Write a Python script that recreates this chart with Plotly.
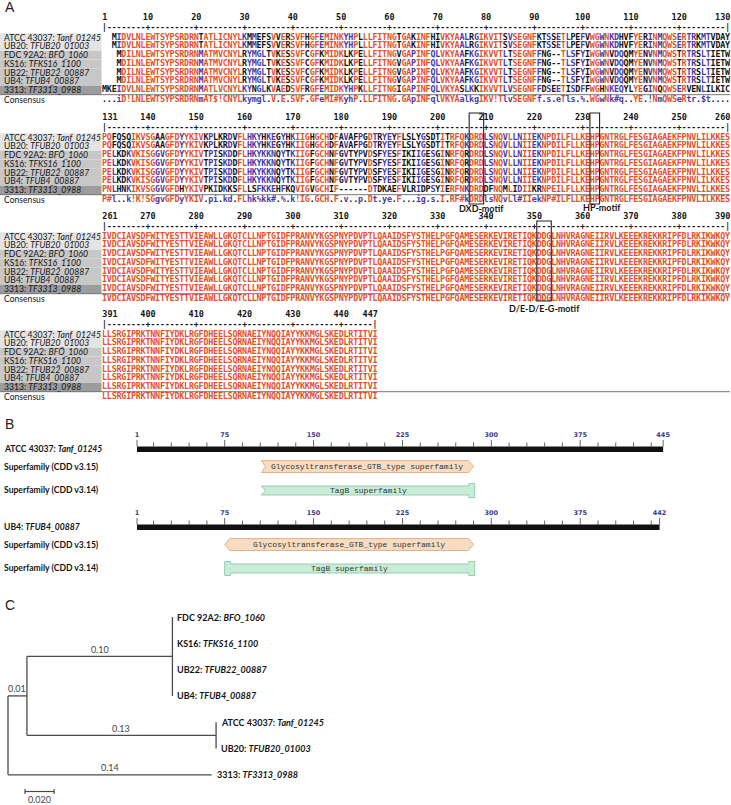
import plotly.graph_objects as go

W, H = 731, 805

# ======================= DATA =======================
# ---- Panel A: multiple alignment ----
ROW_STRAINS = ["ATCC 43037", "UB20", "FDC 92A2", "KS16", "UB22", "UB4", "3313"]
ROW_LOCI = ["Tanf_01245", "TFUB20_01003", "BFO_1060", "TFKS16_1100",
            "TFUB22_00887", "TFUB4_00887", "TF3313_0988"]

TANF_1_130 = ("--MIDVLNLE" "WTSYPSRDRN" "TATLICNYLK" "MMEFSVVERS" "VFHGFEMINK"
              "YHPLLLFITN" "GTGAKINFHI" "VKYAALRGIK" "VITSVSEGNF" "KTSSETLPEF"
              "VWGWNKDHVF" "YERINMQWSE" "RTRKMTVDAY")
TANF_131_260 = ("PQFQSQIKVS" "GAAGFDYYKI" "VKPLKRDVFL" "HKYHKEGYHK" "IIGHGCHDFA"
                "VAFPGDTRYE" "YFLSLYGSDT" "ITRFQKDRDL" "SNQVLLNIIE" "KNPDILFLLK"
                "EHPGNTRGLF" "ESGIAGAEKF" "PNVLILKKES")
TFUB20_1_130 = TANF_1_130
TFUB20_131_260 = TANF_131_260
BFO_1_130 = ("---MDILNLE" "WTSYPSRDRN" "MATMVCNYLR" "YMGLTVKESS" "VFCGFKMIDK"
             "LKPELLFITN" "GVGAPINFQL" "VKYAAFKGIK" "VVTLTSEGNF" "FNG--TLSFY"
             "IWGWNVDQQM" "YENVNMQWST" "RTRSLTIETW")
BFO_131_260 = ("PELKDKVKIS" "GGVGFDYYKI" "VTPISKDDFL" "HKYKKNQYTK" "IIGFGCHNFG"
               "VTYPVDSFYE" "SFIKIIGESG" "INRFQRDRDL" "SNQVLLNIIE" "KNPDILFLLK"
               "EHPGNTRGLF" "ESGIAGAEKF" "PNVLILKKES")
TF3313_1_130 = ("MKEIDVLNLE" "WTSYPSRDRN" "MATLVCNYLK" "YNGLKVAEDS" "VFRGFEMIDK"
                "YHPKLLFITN" "GIGAPINFQL" "VKYASLKKIK" "VVTLVSEGNF" "FDSEETISDF"
                "FWGHNKEQYL" "YEGINQQWSE" "RVENLILKIC")
TF3313_131_260 = ("PNLHNKIKVS" "GGVGFDHYKI" "VPKIDKKSFL" "LSFKKEHFKQ" "VIGVGCHIF-"
                  "-----DTDKA" "EFVLRIDPSY" "IERFNKDRDD" "FNQMLIDIIK" "RNPEILFLLK"
                  "EHPGNTRGLF" "ESGIAGAEKF" "PNVLILKKES")
SHARED_261_447 = ("IVDCIAVSDF" "WITYESTTVI" "EAWLLGKQTC" "LLNPTGIDFP" "RANVYKGSPN"
                  "YPDVPTLQAA" "IDSFYSTHEL" "PGFQAMESER" "KEVIRETIQK" "DDGLNHVRAG"
                  "NEIIRVLKEE" "EKREKKRIPF" "DLRKIKWKQY"
                  "LLSRGIPRKT" "NNFIYDKLRG" "FDHEELSQRN" "AEIYNQQIAY" "YKKMGLSKED"
                  "LRTITVI")
CONS_1_130 = ("...iD!LNLE" "WTSYPSRDRN" "mAT$!CNYLk" "ymgl.V.E.S" "VF.GFeMI#K"
              "yhP.LLFITN" "G.GApINFql" "VKYAalkgIK" "V!TlvSEGNF" "f.s.eTls.%"
              ".WGwNk#q.." "YE.!NmQWSe" "Rtr.$t....")
CONS_131_260 = ("P#l..k!K!S" "GgvGFDyYKI" "V.pi.kd.FL" "hk%kk#.%.k" "!IG.GCH.F."
                "v..p.Dt.ye" ".F...ig.s." "I.RF#kDRDl" "sNQvLl#IIe" "kNP#ILFLLK"
                "EHPGNTRGLF" "ESGIAGAEKF" "PNVLILKKES")
CONS_261_447 = SHARED_261_447
# consensus symbol columns (! $ % #) that are low-consensus (blue) in the picture
SYMBOL_LOW_POS = [100, 107, 114, 125, 163, 166, 168, 217]

BLOCK_STARTS = [1, 131, 261, 391]
MOTIF_NAMES = ["DXD-motif", "HP-motif", "D/E-D/E-G-motif"]
MOTIF_FROM = [207, 232, 351]
MOTIF_TO = [209, 233, 353]

# ---- Panel B: domain architecture ----
PROT_STRAINS = ["ATCC 43037", "UB4"]
PROT_LOCI = ["Tanf_01245", "TFUB4_00887"]
PROT_LEN = [445, 442]
GTB_FROM = [106, 75]
GTB_TO = [285, 285]
TAGB_FROM = [106, 75]
TAGB_TO = [286, 286]
GTB_NAME = "Glycosyltransferase_GTB_type superfamily"
TAGB_NAME = "TagB superfamily"
CDD_V315 = "Superfamily (CDD v3.15)"
CDD_V314 = "Superfamily (CDD v3.14)"
RULER_LABELS = [1, 75, 150, 225, 300, 375]

# ---- Panel C: tree ----
LEAF_STRAINS = ["FDC 92A2", "KS16", "UB22", "UB4", "ATCC 43037", "UB20", "3313"]
LEAF_LOCI = ["BFO_1060", "TFKS16_1100", "TFUB22_00887", "TFUB4_00887",
             "Tanf_01245", "TFUB20_01003", "TF3313_0988"]
BR_INNER = 0.013     # root -> inner node   (label 0.01)
BR_CLADE1 = 0.10     # inner -> FDC/KS16/UB22/UB4 clade
BR_CLADE2 = 0.13     # inner -> ATCC/UB20 clade
BR_3313 = 0.14       # root -> 3313
SCALE_BAR = 0.020

# ======================= STYLE / LAYOUT =======================
RED = "#e5512c"
BLUE = "#4a3aa8"
BLACK = "#141414"
MONO = "DejaVu Sans Mono"
SANS = "Lato"
GROUPS = {"!": "IV", "$": "LM", "%": "FY", "#": "NDQEBZ"}

SEQS = [TANF_1_130 + TANF_131_260 + SHARED_261_447,
        TFUB20_1_130 + TFUB20_131_260 + SHARED_261_447,
        BFO_1_130 + BFO_131_260 + SHARED_261_447,
        BFO_1_130 + BFO_131_260 + SHARED_261_447,
        BFO_1_130 + BFO_131_260 + SHARED_261_447,
        BFO_1_130 + BFO_131_260 + SHARED_261_447,
        TF3313_1_130 + TF3313_131_260 + SHARED_261_447]
CONS = CONS_1_130 + CONS_131_260 + CONS_261_447
NCOL = len(CONS)
for s in SEQS:
    assert len(s) == NCOL, len(s)

PXC = 4.83          # px per alignment column
COL1_PX = 104.5     # px of column 1 centre
BLOCK_TOP = [18, 118, 217, 315]
ROW_DY = 8.75
SEQ_DY0 = 19.5
LABEL_FS = 8.6

def row_y(b, i):
    return BLOCK_TOP[b] + SEQ_DY0 + i * ROW_DY + (0.8 if i == 7 else 0)

ROW_SHADE = ["#e4e4e4", "#e4e4e4", "#c7c7c7", "#c7c7c7", "#c7c7c7", "#c7c7c7", "#9c9c9c"]

fig = go.Figure()
shapes = []
annotations = []

def px2paper_x(px):
    return px / W

# ---------- Panel A ----------
def column_rule(j):
    c = CONS[j]
    if c == ".":
        return None, set()
    if c in GROUPS:
        return (BLUE if (j + 1) in SYMBOL_LOW_POS else RED), set(GROUPS[c])
    if c.isupper():
        return RED, {c}
    return BLUE, {c.upper()}

buckets = {RED: ([], [], []), BLUE: ([], [], []), BLACK: ([], [], [])}

def put(color, x, y, t):
    bx, by, bt = buckets[color]
    bx.append(x); by.append(y); bt.append(t)

num_x, num_y, num_t, num_pos = [], [], [], []
rul_x, rul_y, rul_t = [], [], []

for b, start in enumerate(BLOCK_STARTS):
    end = min(start + 129, NCOL)
    ncols = end - start + 1
    marks = [start] + [p for p in range(start, end + 1) if p % 10 == 0 and p != start]
    if end not in marks:
        marks.append(end)
    for p in marks:
        k = p - start + 1
        if p == start:
            num_x.append(k - 0.45); num_pos.append("middle right")
        elif p == end:
            num_x.append(k + 0.6); num_pos.append("middle left")
        else:
            num_x.append(k); num_pos.append("middle center")
        num_y.append(BLOCK_TOP[b]); num_t.append(str(p))
    for k in range(1, ncols + 1):
        p = start + k - 1
        ch = "|" if (k == 1 or p == end) else ("+" if p % 10 == 0 else "-")
        rul_x.append(k); rul_y.append(BLOCK_TOP[b] + 9.5); rul_t.append(ch)
    for i, seq in enumerate(SEQS):
        y = row_y(b, i)
        for k in range(1, ncols + 1):
            j = start + k - 2
            r = seq[j]
            if r == "-" and set(seq[:j + 1]) == {"-"}:
                continue
            col, match = column_rule(j)
            put(col if (col and r in match) else BLACK, k, y, r)
    yc = row_y(b, 7)
    for k in range(1, ncols + 1):
        j = start + k - 2
        col, _ = column_rule(j)
        put(col or BLACK, k, yc, CONS[j])
    for i in range(7):
        y = row_y(b, i)
        shapes.append(dict(type="rect", xref="paper", yref="y", x0=0, x1=px2paper_x(101.5),
                           y0=y - ROW_DY / 2, y1=y + ROW_DY / 2,
                           fillcolor=ROW_SHADE[i], line=dict(width=0), layer="below"))
        annotations.append(dict(xref="paper", yref="y", x=px2paper_x(2), y=y, xanchor="left",
                                yanchor="middle", showarrow=False,
                                text=f"{ROW_STRAINS[i]}: <i>{ROW_LOCI[i]}</i>",
                                font=dict(family=SANS, size=LABEL_FS, color=BLACK)))
    annotations.append(dict(xref="paper", yref="y", x=px2paper_x(2), y=yc, xanchor="left",
                            yanchor="middle", showarrow=False, text="Consensus",
                            font=dict(family=SANS, size=LABEL_FS, color=BLACK)))
    ysep = row_y(b, 6) + ROW_DY / 2 + 0.3
    shapes.append(dict(type="line", xref="paper", yref="y", x0=0, x1=px2paper_x(730),
                       y0=ysep, y1=ysep, line=dict(color="#555555", width=0.8)))

for col, (bx, by, bt) in buckets.items():
    fig.add_trace(go.Scatter(x=bx, y=by, text=bt, mode="text", xaxis="x", yaxis="y",
                             textposition="middle center", hoverinfo="skip", showlegend=False,
                             textfont=dict(family=MONO, size=8.4, color=col, weight="bold")))
fig.add_trace(go.Scatter(x=num_x, y=num_y, text=num_t, mode="text", xaxis="x", yaxis="y",
                         textposition=num_pos, hoverinfo="skip", showlegend=False,
                         textfont=dict(family=MONO, size=8.5, color=BLACK, weight="bold")))
fig.add_trace(go.Scatter(x=rul_x, y=rul_y, text=rul_t, mode="text", xaxis="x", yaxis="y",
                         textposition="middle center", hoverinfo="skip", showlegend=False,
                         textfont=dict(family=MONO, size=8, color=BLACK, weight="bold")))

MOTIF_Y = [(113, 204), (113, 204), (221, 301)]
MOTIF_LABEL_Y = [208, 207, 308]
MOTIF_LABEL_DX = [1.0, 1.6, 0.0]
for m, name in enumerate(MOTIF_NAMES):
    b = max(i for i, s in enumerate(BLOCK_STARTS) if s <= MOTIF_FROM[m])
    k0 = MOTIF_FROM[m] - BLOCK_STARTS[b] + 1
    k1 = MOTIF_TO[m] - BLOCK_STARTS[b] + 1
    y0, y1 = MOTIF_Y[m]
    shapes.append(dict(type="rect", xref="x", yref="y", x0=k0 - 0.5, x1=k1 + 0.5, y0=y0, y1=y1,
                       line=dict(color="#222222", width=1.1), fillcolor="rgba(0,0,0,0)"))
    annotations.append(dict(xref="x", yref="y", x=(k0 + k1) / 2 + MOTIF_LABEL_DX[m],
                            y=MOTIF_LABEL_Y[m], showarrow=False, xanchor="center",
                            yanchor="middle", text=f"<b>{name}</b>",
                            font=dict(family=SANS, size=9, color=BLACK)))

# ---------- Panel B ----------
PXA = 1.185
AA1_PX = 137
BASE_Y = [449, 527]
GTB_FILL, GTB_LINE = "#f8dcc2", "#e0b48e"
TAGB_FILL, TAGB_LINE = "#c9ecd9", "#92cfac"
TIP = 4.2
for p in range(2):
    base = BASE_Y[p]
    L = PROT_LEN[p]
    annotations.append(dict(xref="paper", yref="y", x=px2paper_x(2), y=base, xanchor="left",
                            yanchor="middle", showarrow=False,
                            text=f"<b>{PROT_STRAINS[p]}: <i>{PROT_LOCI[p]}</i></b>",
                            font=dict(family=SANS, size=LABEL_FS, color=BLACK)))
    for lab, dy in ((CDD_V315, 17.5), (CDD_V314, 40.5)):
        annotations.append(dict(xref="paper", yref="y", x=px2paper_x(2), y=base + dy,
                                xanchor="left", yanchor="middle", showarrow=False,
                                text=f"<b>{lab}</b>",
                                font=dict(family=SANS, size=LABEL_FS, color=BLACK)))
    shapes.append(dict(type="rect", xref="x2", yref="y", x0=1, x1=L, y0=base - 2.5, y1=base + 3,
                       fillcolor="#111111", line=dict(width=0)))
    tx, ty = [], []
    ticks = [1] + list(range(15, L, 15)) + [L]
    for t in ticks:
        major = (t in RULER_LABELS) or t == L
        tx += [t, t, None]
        ty += [base - (9 if major else 6.5), base - 2.5, None]
    fig.add_trace(go.Scatter(x=tx, y=ty, mode="lines", xaxis="x2", yaxis="y",
                             line=dict(color="#666666", width=1), hoverinfo="skip",
                             showlegend=False))
    labs = RULER_LABELS + [L]
    fig.add_trace(go.Scatter(x=labs, y=[base - 14] * len(labs), text=[str(v) for v in labs],
                             mode="text", xaxis="x2", yaxis="y", hoverinfo="skip",
                             showlegend=False, textposition="middle center",
                             textfont=dict(family="DejaVu Sans", size=6.5, color="#3b3b8c",
                                           weight="bold")))
    x0, x1 = GTB_FROM[p], GTB_TO[p]
    yt, yb, ym = base + 11.5, base + 23.5, base + 17.5
    if p == 0:
        path = (f"M {x0},{yt} L {x1 - TIP},{yt} L {x1},{ym} L {x1 - TIP},{yb} "
                f"L {x0},{yb} L {x0 + 3.4},{ym} Z")
    else:
        path = (f"M {x0 + TIP},{yt} L {x1 - TIP},{yt} L {x1},{ym} L {x1 - TIP},{yb} "
                f"L {x0 + TIP},{yb} L {x0},{ym} Z")
    shapes.append(dict(type="path", xref="x2", yref="y", path=path, fillcolor=GTB_FILL,
                       line=dict(color=GTB_LINE, width=1)))
    annotations.append(dict(xref="x2", yref="y", x=(x0 + x1) / 2, y=ym, showarrow=False,
                            xanchor="center", yanchor="middle", text=GTB_NAME,
                            font=dict(family="Liberation Mono", size=8, color="#333333")))
    x0, x1 = TAGB_FROM[p], TAGB_TO[p]
    ym = base + 41.5
    bt_, bb_ = ym - 4.5, ym + 4.5
    ct_, cb_ = ym - 7, ym + 7
    cw = 5.0
    if p == 0:
        path = (f"M {x0},{bt_} L {x1 - cw},{bt_} L {x1 - cw},{ct_} L {x1},{ct_} L {x1},{cb_} "
                f"L {x1 - cw},{cb_} L {x1 - cw},{bb_} L {x0},{bb_} L {x0 + 3.4},{ym} Z")
    else:
        path = (f"M {x0 + cw},{bt_} L {x1 - cw},{bt_} L {x1 - cw},{ct_} L {x1},{ct_} "
                f"L {x1},{cb_} L {x1 - cw},{cb_} L {x1 - cw},{bb_} L {x0 + cw},{bb_} "
                f"L {x0 + cw},{cb_} L {x0},{cb_} L {x0},{ct_} L {x0 + cw},{ct_} Z")
    shapes.append(dict(type="path", xref="x2", yref="y", path=path, fillcolor=TAGB_FILL,
                       line=dict(color=TAGB_LINE, width=1)))
    annotations.append(dict(xref="x2", yref="y", x=(x0 + x1) / 2, y=ym, showarrow=False,
                            xanchor="center", yanchor="middle", text=TAGB_NAME,
                            font=dict(family="Liberation Mono", size=8, color="#333333")))

# ---------- Panel C ----------
PXT = 1455.0
ROOT_PX = 8
LEAF_Y0, LEAF_DY = 617, 26.3
ly = [LEAF_Y0 + i * LEAF_DY for i in range(7)]
x_in = BR_INNER
x_c1 = BR_INNER + BR_CLADE1
x_c2 = BR_INNER + BR_CLADE2
x_33 = BR_3313
y_c1 = sum(ly[0:4]) / 4
y_c2 = sum(ly[4:6]) / 2
y_in = (y_c1 + y_c2) / 2
segs = [((0, y_in), (0, ly[6])),
        ((0, y_in), (x_in, y_in)),
        ((x_in, y_c1), (x_in, y_c2)),
        ((x_in, y_c1), (x_c1, y_c1)),
        ((x_c1, ly[0]), (x_c1, ly[3])),
        ((x_in, y_c2), (x_c2, y_c2)),
        ((x_c2, ly[4]), (x_c2, ly[5])),
        ((0, ly[6]), (x_33, ly[6]))]
tx, ty = [], []
for (a, bpt) in segs:
    tx += [a[0], bpt[0], None]
    ty += [a[1], bpt[1], None]
fig.add_trace(go.Scatter(x=tx, y=ty, mode="lines", xaxis="x3", yaxis="y",
                         line=dict(color="#4a4a4a", width=1.3), hoverinfo="skip",
                         showlegend=False))
leaf_x = [x_c1] * 4 + [x_c2] * 2 + [x_33]
for i in range(7):
    annotations.append(dict(xref="x3", yref="y", x=leaf_x[i] + 3 / PXT, y=ly[i], xanchor="left",
                            yanchor="middle", showarrow=False,
                            text=f"<b>{LEAF_STRAINS[i]}: <i>{LEAF_LOCI[i]}</i></b>",
                            font=dict(family=SANS, size=9, color=BLACK)))
for (xa, xb, yy, val) in ((0, x_in, y_in, BR_INNER), (x_in, x_c1, y_c1, BR_CLADE1),
                          (x_in, x_c2, y_c2, BR_CLADE2), (0, x_33, ly[6], BR_3313)):
    annotations.append(dict(xref="x3", yref="y", x=(xa + xb) / 2, y=yy - 7, showarrow=False,
                            xanchor="center", yanchor="middle", text=f"{val:.2f}",
                            font=dict(family=SANS, size=9, color="#444444")))
sb0 = 17 / PXT
fig.add_trace(go.Scatter(x=[sb0, sb0, None, sb0, sb0 + SCALE_BAR, None,
                            sb0 + SCALE_BAR, sb0 + SCALE_BAR],
                         y=[789, 794, None, 791.5, 791.5, None, 789, 794],
                         mode="lines", xaxis="x3", yaxis="y",
                         line=dict(color="#4a4a4a", width=1.2), hoverinfo="skip",
                         showlegend=False))
annotations.append(dict(xref="x3", yref="y", x=sb0 + SCALE_BAR / 2, y=799.5, showarrow=False,
                        xanchor="center", yanchor="middle", text=f"{SCALE_BAR:.3f}",
                        font=dict(family=SANS, size=9, color="#444444")))

for letter, y in (("A", 7), ("B", 424), ("C", 605)):
    annotations.append(dict(xref="paper", yref="y", x=px2paper_x(3), y=y, xanchor="left",
                            yanchor="middle", showarrow=False, text=letter,
                            font=dict(family="Liberation Sans", size=14, color="#222222")))

r0 = 1 - COL1_PX / PXC
ra0 = 1 - AA1_PX / PXA
rt0 = -ROOT_PX / PXT
fig.update_layout(
    width=W, height=H, margin=dict(l=0, r=0, t=0, b=0),
    paper_bgcolor="white", plot_bgcolor="white", showlegend=False,
    xaxis=dict(domain=[0, 1], range=[r0, r0 + W / PXC], visible=False, fixedrange=True),
    xaxis2=dict(domain=[0, 1], range=[ra0, ra0 + W / PXA], visible=False, overlaying="x",
                anchor="y", fixedrange=True),
    xaxis3=dict(domain=[0, 1], range=[rt0, rt0 + W / PXT], visible=False, overlaying="x",
                anchor="y", fixedrange=True),
    yaxis=dict(domain=[0, 1], range=[H, 0], visible=False, fixedrange=True),
    shapes=shapes, annotations=annotations,
)
fig.write_html("out.html",
               config={"displayModeBar": False, "staticPlot": True},
               post_script="document.body.style.margin='0';document.body.style.padding='0';"
                           "document.body.style.overflow='hidden';")
